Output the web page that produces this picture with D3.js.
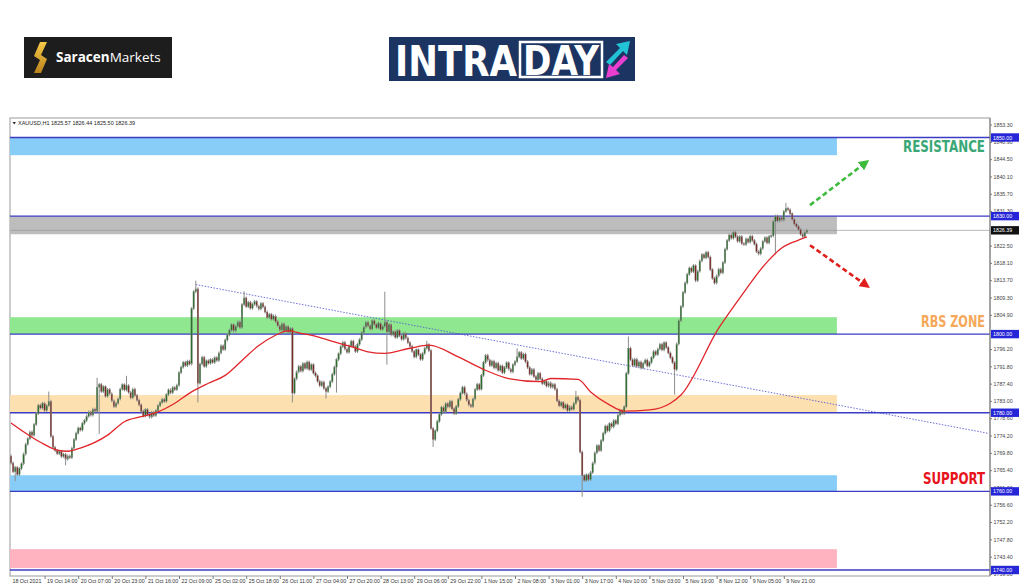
<!DOCTYPE html>
<html><head><meta charset="utf-8">
<script src="https://cdn.jsdelivr.net/npm/d3@7"></script>
<style>body{margin:0;background:#fff}svg{display:block}</style>
</head><body><svg id="c" width="1024" height="587"></svg>
<script>
// ---------- DATA ----------
const symbolTitle = "XAUUSD,H1  1825.57 1826.44 1825.50 1826.39";
const firstOpen = 1769.0;
const closes = [
1767.2,1765.0,1766.1,1764.3,1765.8,1767.0,1769.5,1772.0,1773.4,1775.1,
1774.3,1777.0,1779.8,1781.9,1781.2,1782.4,1780.6,1781.8,1782.9,1774.0,
1771.2,1770.4,1769.6,1770.1,1768.9,1769.4,1768.2,1769.0,1768.6,1771.0,
1773.2,1774.8,1776.1,1775.6,1777.3,1778.0,1779.1,1780.2,1779.4,1780.9,
1780.4,1786.5,1787.2,1785.4,1786.6,1784.2,1785.9,1784.8,1783.0,1781.6,
1782.4,1783.5,1786.0,1787.1,1785.8,1786.9,1785.2,1783.8,1786.0,1784.4,
1783.2,1782.0,1780.4,1779.2,1780.8,1779.5,1778.9,1780.1,1779.3,1780.6,
1781.8,1782.6,1783.4,1782.9,1784.6,1785.8,1785.1,1786.4,1785.9,1787.0,
1790.2,1791.6,1792.8,1792.0,1793.1,1792.4,1806.5,1810.8,1811.5,1787.5,
1792.4,1794.1,1791.8,1793.2,1792.6,1793.5,1792.8,1794.0,1793.3,1795.2,
1797.0,1796.1,1798.5,1799.8,1801.0,1802.4,1800.8,1802.0,1803.1,1801.7,
1807.5,1809.2,1807.0,1808.1,1806.6,1807.6,1808.3,1807.1,1806.4,1807.8,
1806.9,1805.6,1804.2,1805.0,1803.8,1804.6,1803.2,1802.1,1801.0,1802.6,
1800.8,1801.9,1800.5,1801.4,1785.0,1788.6,1790.4,1791.8,1790.6,1792.5,
1791.3,1792.9,1791.0,1792.2,1790.1,1789.4,1788.0,1786.9,1787.8,1786.2,
1785.4,1786.6,1787.9,1789.8,1791.6,1793.5,1795.0,1796.8,1797.9,1796.2,
1795.4,1797.0,1798.2,1796.8,1795.6,1797.4,1798.6,1800.4,1801.8,1803.0,
1802.1,1801.3,1803.4,1802.5,1801.6,1802.8,1801.2,1802.0,1803.1,1800.6,
1802.4,1799.8,1800.6,1799.2,1800.9,1799.6,1798.7,1800.2,1799.0,1797.8,
1796.9,1795.6,1794.2,1796.0,1794.8,1793.6,1795.1,1796.4,1797.3,1795.8,
1776.0,1773.2,1775.4,1777.8,1779.6,1781.4,1780.2,1782.3,1781.5,1782.9,
1781.0,1779.8,1781.6,1783.4,1785.0,1786.5,1784.8,1783.2,1782.0,1781.6,
1783.5,1785.9,1787.2,1786.0,1789.5,1792.8,1794.6,1793.4,1792.0,1793.1,
1791.4,1792.6,1790.8,1791.9,1790.2,1791.5,1792.7,1791.1,1790.4,1792.2,
1793.0,1794.2,1795.3,1793.8,1794.9,1793.0,1791.5,1789.8,1791.0,1789.2,
1788.4,1790.0,1788.6,1787.4,1788.0,1786.8,1787.6,1786.5,1787.2,1786.0,
1783.0,1781.8,1782.6,1781.2,1782.0,1780.6,1781.5,1780.9,1782.4,1784.0,
1783.2,1770.0,1764.0,1762.8,1764.2,1763.0,1764.8,1767.2,1769.8,1771.6,
1770.4,1772.9,1774.8,1776.6,1775.4,1777.2,1776.4,1778.0,1777.2,1779.4,
1780.6,1779.8,1781.5,1790.0,1796.4,1793.5,1792.0,1793.6,1791.8,1792.9,
1791.4,1792.6,1793.4,1791.9,1792.8,1794.0,1795.6,1794.8,1796.2,1797.4,
1796.0,1797.8,1796.6,1795.2,1794.0,1792.8,1791.0,1797.5,1803.4,1807.0,
1810.6,1813.0,1815.2,1816.8,1815.9,1817.4,1813.6,1816.0,1818.6,1820.2,
1819.4,1820.8,1819.6,1816.4,1814.2,1813.0,1814.8,1816.5,1815.6,1818.2,
1821.6,1823.8,1825.2,1824.4,1825.9,1824.8,1823.6,1824.8,1823.0,1822.8,
1824.2,1823.4,1824.9,1823.8,1822.9,1821.0,1820.4,1821.8,1823.6,1824.5,
1823.2,1824.8,1825.0,1828.6,1830.0,1828.8,1829.6,1829.0,1831.2,1832.0,
1831.6,1830.6,1829.2,1828.0,1827.4,1826.6,1825.4,1824.8,1825.9,1826.39
];
// wick extremes: [bar index, price]
const highWicks = [[18,1785.0],[41,1788.5],[55,1789.0],[88,1813.2],[111,1810.5],[178,1810.4],
  [198,1797.9],[241,1796.0],[269,1785.2],[294,1799.0],[369,1833.0]];
const lowWicks = [[2,1763.0],[26,1767.0],[42,1775.0],[89,1783.0],[134,1783.0],[150,1784.0],
  [155,1785.5],[179,1792.6],[201,1771.7],[272,1759.0],[316,1785.0],[364,1820.6]];
// moving average: [bar index, price]
const maPoints = [[0,1777.4],[14,1772.5],[22,1770.5],[27,1770.2],[33,1771.0],[46,1774.3],[54,1777.7],
  [62,1779.0],[70,1780.2],[78,1782.4],[86,1785.3],[94,1787.5],[102,1789.5],[110,1793.3],[118,1797.1],
  [126,1799.7],[132,1800.8],[138,1800.2],[146,1799.3],[154,1798.0],[162,1796.8],[170,1795.5],
  [178,1795.1],[190,1796.4],[199,1797.2],[213,1794.2],[226,1790.8],[237,1788.7],[252,1787.9],
  [257,1788.7],[270,1788.5],[276,1785.3],[285,1782.0],[292,1780.4],[304,1780.7],[314,1782.4],
  [319,1784.5],[337,1801.5],[348,1809.9],[360,1818.3],[367,1821.9],[375,1823.9],[379,1824.7]];
// zones: [low, high, fill]
const zones = [[1845.5,1850,"#87cdf7"],[1825.4,1830,"#bdbdbd"],[1800,1804.3,"#8fe88f"],
  [1780,1784.5,"#fde0b0"],[1760,1764.1,"#87cdf7"],[1740.5,1745.3,"#ffb3c0"]];
const zoneEndIndex = 393.3;
const levels = [1850, 1830, 1800, 1780, 1760, 1740];
const lastPrice = 1826.39;
const trend = [[88,1812.6],[465,1774.8]];
const upArrow = [[380.5,1832.8],[406.7,1843.5]];
const downArrow = [[380.5,1822.6],[407,1812.5]];
const yTickValues = [1853.30,1848.90,1844.50,1840.10,1835.70,1831.30,1822.50,1818.10,1813.70,
  1809.30,1804.90,1796.20,1791.80,1787.40,1783.00,1778.60,1774.20,1769.80,1765.40,1761.00,
  1756.60,1752.20,1747.80,1743.40,1739.00];
const xTickLabels = ["18 Oct 2021","19 Oct 14:00","20 Oct 07:00","20 Oct 23:00","21 Oct 16:00",
  "22 Oct 09:00","25 Oct 02:00","25 Oct 18:00","26 Oct 11:00","27 Oct 04:00","27 Oct 20:00",
  "28 Oct 13:00","29 Oct 06:00","29 Oct 22:00","1 Nov 15:00","2 Nov 08:00","3 Nov 01:00",
  "3 Nov 17:00","4 Nov 10:00","5 Nov 03:00","5 Nov 19:00","8 Nov 12:00","9 Nov 05:00","9 Nov 21:00"];
const xTickIndex = xTickLabels.map((d,i)=>i*16);
const zoneLabels = [["RESISTANCE",1846.3,"#3aa876",82],["RBS ZONE",1801.9,"#f5a85a",64],["SUPPORT",1761.8,"#e8141c",62]];

// ---------- DRAW ----------
const svg = d3.select("#c");
const L = 10, R = 990, T = 118, B = 576;
const x = d3.scaleLinear().domain([0, 379]).range([11, 11 + 379*2.1]);
const y = d3.scaleLinear().domain([1740, 1850]).range([570, 137.5]);
const font = "'Liberation Sans', Arial, sans-serif";

// logos
const sm = svg.append("g");
sm.append("rect").attr("x",24).attr("y",37).attr("width",148).attr("height",41).attr("fill","#1d1d1d");
const gold = svg.append("defs").append("linearGradient").attr("id","gold").attr("x1",0).attr("y1",0).attr("x2",0).attr("y2",1);
gold.append("stop").attr("offset","0").attr("stop-color","#f7c948");
gold.append("stop").attr("offset","1").attr("stop-color","#b9831c");
sm.append("path").attr("d","M40,42 L47,42 L41,55 L47,59 L41,73 L34,73 L40,60 L34,56 Z").attr("fill","url(#gold)");
const smt = sm.append("text").attr("x",56).attr("y",62).attr("font-family","'Open Sans', "+font).attr("font-size",13.5).attr("fill","#fff");
smt.append("tspan").attr("font-weight","700").text("Saracen");
smt.append("tspan").attr("font-weight","400").text("Markets");

const it = svg.append("g");
it.append("rect").attr("x",389).attr("y",37).attr("width",246).attr("height",44).attr("fill","#1c3461");
it.append("text").attr("x",395).attr("y",76).attr("font-family","'Liberation Sans Narrow','DejaVu Sans Condensed',"+font)
  .attr("font-weight","700").attr("font-size",42).attr("fill","#fff").attr("textLength",122).attr("lengthAdjust","spacingAndGlyphs").text("INTRA");
it.append("rect").attr("x",520).attr("y",42).attr("width",82).attr("height",35).attr("fill","#1c3461").attr("stroke","#fff").attr("stroke-width",2.5);
it.append("text").attr("x",523).attr("y",75).attr("font-family","'Liberation Sans Narrow','DejaVu Sans Condensed',"+font)
  .attr("font-weight","700").attr("font-size",40).attr("fill","#fff").attr("textLength",76).attr("lengthAdjust","spacingAndGlyphs").text("DAY");
it.append("path").attr("d","M606,62 L620,48 L616,44 L630,41 L627,55 L623,51 L610,65 Z").attr("fill","#22c3d6");
it.append("path").attr("d","M628,58 L616,70 L620,74 L606,78 L609,64 L613,67 L624,55 Z").attr("fill","#e83fd0");

// chart frame
svg.append("rect").attr("x",L).attr("y",T).attr("width",R-L).attr("height",B-T).attr("fill","#fff").attr("stroke","#9a9a9a").attr("stroke-width",1);

// zones
svg.append("g").selectAll("rect").data(zones).join("rect")
  .attr("x", x(0)-1).attr("width", x(zoneEndIndex)-x(0)+1)
  .attr("y", d=>y(d[1])).attr("height", d=>y(d[0])-y(d[1])).attr("fill", d=>d[2]);

// trend line
svg.append("line").attr("x1",x(trend[0][0])).attr("y1",y(trend[0][1])).attr("x2",x(trend[1][0])).attr("y2",y(trend[1][1]))
  .attr("stroke","#4a4ad0").attr("stroke-width",0.8).attr("stroke-dasharray","1.5,1.5");

// levels
svg.append("g").selectAll("line").data(levels).join("line")
  .attr("x1",L).attr("x2",R).attr("y1",d=>y(d)).attr("y2",d=>y(d)).attr("stroke","#3b3bc4").attr("stroke-width",1.4);
svg.append("line").attr("x1",L).attr("x2",R).attr("y1",y(lastPrice)).attr("y2",y(lastPrice)).attr("stroke","#9a9a9a").attr("stroke-width",0.7);

// candles
const opens = closes.map((c,i)=> i===0 ? firstOpen : closes[i-1]);
const hiMap = new Map(highWicks), loMap = new Map(lowWicks);
const candles = closes.map((c,i)=>({i, o:opens[i], c,
  h: hiMap.has(i) ? hiMap.get(i) : Math.max(opens[i], c),
  l: loMap.has(i) ? loMap.get(i) : Math.min(opens[i], c)}));
const cg = svg.append("g");
cg.selectAll("line").data(candles).join("line")
  .attr("x1",d=>x(d.i)).attr("x2",d=>x(d.i))
  .attr("y1",d=>y(d.h)-1.5).attr("y2",d=>y(d.l)+1.5)
  .attr("stroke","#8c8c8c").attr("stroke-width",1);
cg.selectAll("rect").data(candles).join("rect")
  .attr("x",d=>x(d.i)-0.75).attr("width",1.5)
  .attr("y",d=>y(Math.max(d.o,d.c))).attr("height",d=>Math.max(0.8, Math.abs(y(d.o)-y(d.c))))
  .attr("fill",d=> d.c>=d.o ? "#2a6e2a" : "#7a2a22")
  .attr("stroke","#8c8c8c").attr("stroke-width",0.35);

// MA
svg.append("path").datum(maPoints)
  .attr("d", d3.line().x(d=>x(d[0])).y(d=>y(d[1])).curve(d3.curveMonotoneX))
  .attr("fill","none").attr("stroke","#e0262a").attr("stroke-width",1.3);

// arrows
const defs = svg.append("defs");
[["ag","#3dbb3d"],["ar","#e0201c"]].forEach(([id,col])=>{
  defs.append("marker").attr("id",id).attr("viewBox","0 0 10 10").attr("refX",5).attr("refY",5)
    .attr("markerWidth",4).attr("markerHeight",4).attr("orient","auto")
    .append("path").attr("d","M0,0 L10,5 L0,10 Z").attr("fill",col);
});
[[upArrow,"#3dbb3d","ag"],[downArrow,"#e0201c","ar"]].forEach(([a,col,id])=>{
  svg.append("line").attr("x1",x(a[0][0])).attr("y1",y(a[0][1])).attr("x2",x(a[1][0])).attr("y2",y(a[1][1]))
    .attr("stroke",col).attr("stroke-width",2.6).attr("stroke-dasharray","5,3").attr("marker-end",`url(#${id})`);
});

// zone labels
svg.append("g").selectAll("text").data(zoneLabels).join("text")
  .attr("x",985).attr("y",d=>y(d[1])).attr("text-anchor","end")
  .attr("font-family","'Liberation Sans Narrow','DejaVu Sans Condensed',"+font).attr("font-weight","700").attr("font-size",15)
  .attr("fill",d=>d[2]).attr("textLength",d=>d[3]).attr("lengthAdjust","spacingAndGlyphs").text(d=>d[0]);

// title
svg.append("path").attr("d","M12.5,122 L16,122 L14.25,124.5 Z").attr("fill","#333");
svg.append("text").attr("x",18).attr("y",125).attr("font-family",font).attr("font-size",5.5).attr("fill","#222").text(symbolTitle);

// right axis
const ya = svg.append("g").attr("transform",`translate(${R},0)`)
  .call(d3.axisRight(y).tickValues(yTickValues).tickFormat(d3.format(".2f")).tickSize(2).tickPadding(1.5));
ya.select(".domain").attr("stroke","#7a7a7a").attr("d",`M0,${T}V${B}`);
ya.selectAll(".tick line").attr("stroke","#7a7a7a");
ya.selectAll("text").attr("font-family",font).attr("font-size",5.3).attr("fill","#444");

// bottom axis
const xa = svg.append("g").attr("transform",`translate(0,${B})`)
  .call(d3.axisBottom(x).tickValues(xTickIndex).tickFormat((d,i)=>xTickLabels[i]).tickSize(3));
xa.select(".domain").remove();
xa.selectAll(".tick line").attr("stroke","#7a7a7a").attr("opacity",(d,i)=>i===0?0:1);
xa.selectAll("text").attr("font-family",font).attr("font-size",5.3).attr("fill","#333")
  .attr("text-anchor","start").attr("x",(d,i)=> i===0 ? 1 : 2).attr("y",3).attr("dy","0.71em");

// price boxes
const boxes = levels.map(v=>({v, bg:"#2626d8"})).concat([{v:lastPrice, bg:"#111"}]);
const bx = svg.append("g").selectAll("g").data(boxes).join("g").attr("transform",d=>`translate(${R+1},${y(d.v)})`);
bx.append("rect").attr("x",0).attr("y",-4.2).attr("width",28).attr("height",8.4).attr("fill",d=>d.bg);
bx.append("text").attr("x",2).attr("y",2).attr("font-family",font).attr("font-size",5.3).attr("fill","#fff").text(d=>d.v.toFixed(2));
</script></body></html>
